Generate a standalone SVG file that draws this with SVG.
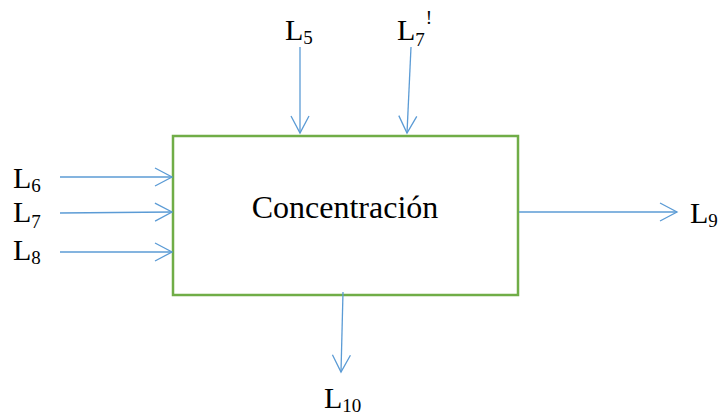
<svg xmlns="http://www.w3.org/2000/svg" width="721" height="416" viewBox="0 0 721 416">
<defs>
<style>
text{font-family:'Liberation Serif','Times New Roman',serif;fill:#000}
.lbl{font-size:30px}
.sub{font-size:19px}
.main{font-size:32px}
.arr{stroke:#5b9bd5;stroke-width:1.3;fill:none;marker-end:url(#ah)}
.box{fill:#fff;stroke:#70ad47;stroke-width:2.5}
</style>
<marker id="ah" markerUnits="userSpaceOnUse" markerWidth="22" markerHeight="24" viewBox="-19 -11 22 22" refX="0" refY="0" orient="auto">
<path d="M-17,-9 L0,0 L-17,9" fill="none" stroke="#5b9bd5" stroke-width="1.3"/>
</marker>
</defs>
<g id="process">
<rect class="box" x="173" y="136" width="345" height="159"/>
<text class="main" x="345" y="218" text-anchor="middle">Concentración</text>
</g>
<g id="connectors">
<line class="arr" x1="60" y1="177" x2="172" y2="177"/>
<line class="arr" x1="60" y1="213" x2="172" y2="212"/>
<line class="arr" x1="60" y1="252" x2="172" y2="252"/>
<line class="arr" x1="300" y1="47" x2="300" y2="133"/>
<line class="arr" x1="411" y1="47" x2="407" y2="133"/>
<line class="arr" x1="519" y1="212" x2="677" y2="212"/>
<line class="arr" x1="343" y1="292" x2="341" y2="372"/>
</g>
<g id="L6"><text class="lbl" x="13" y="188">L<tspan class="sub" dy="4">6</tspan></text></g>
<g id="L7"><text class="lbl" x="13" y="222">L<tspan class="sub" dy="6">7</tspan></text></g>
<g id="L8"><text class="lbl" x="13" y="260">L<tspan class="sub" dy="4">8</tspan></text></g>
<g id="L5"><text class="lbl" x="285" y="40">L<tspan class="sub" dy="4">5</tspan></text></g>
<g id="L7p"><text class="lbl" x="397" y="40">L<tspan class="sub" dy="6">7</tspan><tspan class="sub" dx="1" dy="-22">!</tspan></text></g>
<g id="L9"><text class="lbl" x="690" y="223">L<tspan class="sub" dy="4">9</tspan></text></g>
<g id="L10"><text class="lbl" x="324" y="408">L<tspan class="sub" dy="4">10</tspan></text></g>
</svg>
